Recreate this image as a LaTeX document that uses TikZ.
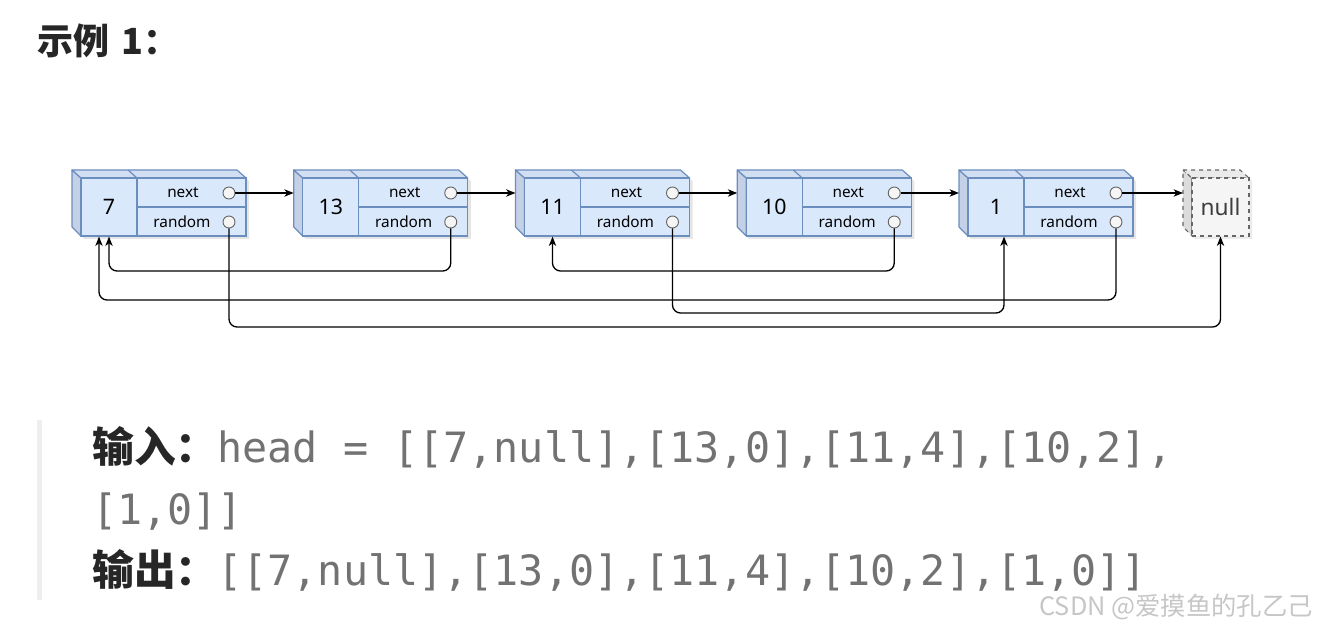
\documentclass[tikz,border=0pt]{standalone}
\usepackage{fontspec}
\setmainfont{Noto Sans}
\newfontfamily\cjk{Noto Sans CJK SC}
\newfontfamily\mono{DejaVu Sans Mono}
\usetikzlibrary{positioning, arrows.meta}

\definecolor{azulrelleno}{HTML}{DAE8FC}
\definecolor{azulborde}{HTML}{6C8EBF}
\definecolor{azullado}{HTML}{C3D0E6}
\definecolor{azultapa}{HTML}{D2DFF3}
\definecolor{grisnulo}{HTML}{F5F5F5}
\definecolor{grisborde}{HTML}{666666}
\definecolor{grislado}{HTML}{DCDCDC}
\definecolor{gristapa}{HTML}{EAEAEA}
\definecolor{gristexto}{HTML}{727272}
\definecolor{negrotexto}{HTML}{262626}
\definecolor{barra}{HTML}{EEEEEE}
\definecolor{marca}{HTML}{C6C6C6}

\tikzset{
  valor/.style={draw=azulborde, fill=azulrelleno, line width=0.9pt, minimum width=42pt,
    minimum height=43.5pt, inner sep=0pt, font=\fontsize{16}{16}\selectfont},
  campo/.style={draw=azulborde, fill=azulrelleno, line width=0.9pt, minimum width=81.75pt,
    minimum height=21.75pt, inner sep=0pt},
  etiq/.style={inner sep=0pt, font=\fontsize{11.5}{11.5}\selectfont},
  punto/.style={circle, draw=grisborde, fill=grisnulo, line width=0.7pt, minimum size=9pt, inner sep=0pt},
  cara/.style={draw=azulborde, line width=0.9pt, line join=round},
  enlace/.style={->, line width=1pt, rounded corners=6pt},
  texto/.style={anchor=base west, inner sep=0pt, font=\fontsize{31.3}{31.3}\selectfont},
}

\begin{document}
\begin{tikzpicture}[x=0.75pt, y=-0.75pt, >={Stealth[length=7pt, width=5.5pt, inset=2pt]}]
    \useasboundingbox (0,0) rectangle (1320,630);

    % Título
    \node[anchor=base west, inner sep=0pt, text=negrotexto, font=\fontsize{27}{27}\selectfont]
        (titulo) at (37,55) {\cjk\bfseries 示例\,\,1：};

    % Niveles de las líneas random
    \coordinate (nivelA) at (0,271);
    \coordinate (nivelB) at (0,300);
    \coordinate (nivelC) at (0,313);
    \coordinate (nivelD) at (0,327);

    % Nodos de la lista (caja 3D)
    \foreach \i/\val in {0/7,1/13,2/11,3/10,4/1}{
        \pgfmathsetmacro{\X}{81+221.75*\i}
        \fill[black, opacity=0.10] (\X-6,173) -- (\X+159,173) -- (\X+168,181)
            -- (\X+168,239) -- (\X+3,239) -- (\X-6,230) -- cycle;
        \filldraw[cara, fill=azullado] (\X,178) -- (\X-9,170) -- (\X-9,227) -- (\X,236) -- cycle;
        \filldraw[cara, fill=azultapa] (\X-9,170) -- (\X+156,170) -- (\X+165,178) -- (\X,178) -- cycle;
        \draw[cara] (\X+56,178) -- (\X+47,170);
        \node[valor] (v\i) at (\X+28,207) {\val};
        \node[campo] (nx\i) at (\X+110.5,192.5) {};
        \node[campo] (rx\i) at (\X+110.5,221.5) {};
        \node[etiq] (tn\i) at (\X+102,193) {next};
        \node[etiq] (tr\i) at (\X+101,222) {random};
        \node[punto] (pn\i) at (\X+148,193) {};
        \node[punto] (pr\i) at (\X+148,222) {};
        \coordinate (e\i) at (\X-9,193);
    }

    % Caja null
    \fill[black, opacity=0.08] (1186,173) -- (1243,173) -- (1252,181) -- (1252,239)
        -- (1195,239) -- (1186,230) -- cycle;
    \filldraw[draw=grisborde, dashed, line width=0.8pt, fill=grislado]
        (1192,178) -- (1183,170) -- (1183,227) -- (1192,236) -- cycle;
    \filldraw[draw=grisborde, dashed, line width=0.8pt, fill=gristapa]
        (1183,170) -- (1240,170) -- (1249,178) -- (1192,178) -- cycle;
    \node[draw=grisborde, dashed, line width=0.8pt, fill=grisnulo, minimum width=42.75pt,
        minimum height=43.5pt, inner sep=0pt, text=grisborde!60!black,
        font=\fontsize{17}{17}\selectfont] (nulo) at (1220.5,207) {null};
    \coordinate (e5) at (1183,193);

    % Punteros next
    \foreach \i/\j in {0/1,1/2,2/3,3/4,4/5}
        \draw[->, line width=1pt] (pn\i.east) -- (e\j);

    % Punteros random
    \draw[enlace] (pr0.south) -- (pr0.south |- nivelD) -| (nulo.south);
    \draw[enlace] (pr1.south) -- (pr1.south |- nivelA) -| (v0.south);
    \draw[enlace] (pr2.south) -- (pr2.south |- nivelC) -| ([xshift=6pt]v4.south);
    \draw[enlace] (pr3.south) -- (pr3.south |- nivelA) -| (v2.south);
    \draw[enlace] (pr4.south) -- (pr4.south |- nivelB) -| ([xshift=-7.5pt]v0.south);

    % Bloque de ejemplo
    \fill[barra] (37,420) rectangle (42,600);
    \node[texto] (entrada) at (92,463)
        {{\cjk\bfseries\color{negrotexto}输入：}{\mono\color{gristexto}head = [[7,null],[13,0],[11,4],[10,2],}};
    \node[texto] (entrada2) at (92,524) {\mono\color{gristexto}[1,0]]};
    \node[texto] (salida) at (92,585)
        {{\cjk\bfseries\color{negrotexto}输出：}{\mono\color{gristexto}[[7,null],[13,0],[11,4],[10,2],[1,0]]}};

    % Marca de agua
    \node[anchor=base east, inner sep=0pt, text=marca, font=\fontsize{19}{19}\selectfont]
        (marca) at (1313,615) {\cjk CSDN @爱摸鱼的孔乙己};

\end{tikzpicture}
\end{document}
